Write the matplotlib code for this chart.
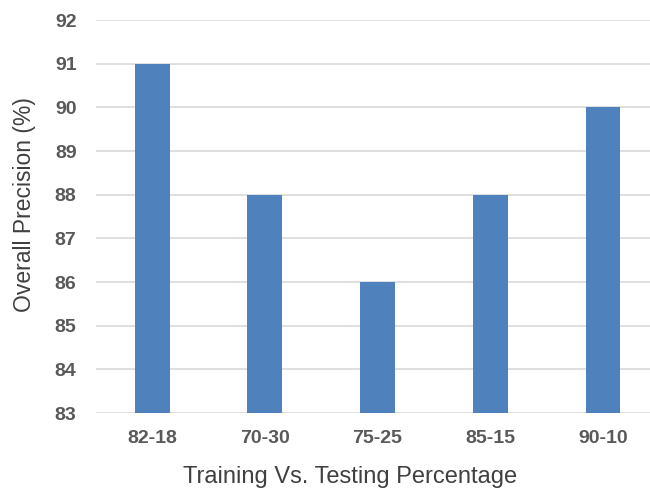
import matplotlib.pyplot as plt

splits = ["82-18", "70-30", "75-25", "85-15", "90-10"]
precision = [91, 88, 86, 88, 90]
y_ticks = list(range(83, 93))

plt.rcParams['font.family'] = ['Liberation Sans', 'DejaVu Sans']

fig = plt.figure(figsize=(6.5, 4.94), dpi=100)
ax = fig.add_axes([96 / 650, 1 - 413 / 494, 1 - 96 / 650, (413 - 20) / 494])

ax.bar(range(len(splits)), precision, width=0.31, color='#4f81bd', zorder=3)

ax.set_ylim(83, 92)
ax.set_xlim(-0.497, 4.417)
ax.set_yticks(y_ticks)
ax.set_xticks(range(len(splits)))
ax.set_xticklabels(splits)
ax.grid(axis='y', color='#d9d9d9', linewidth=1.2, zorder=0)
for s in ax.spines.values():
    s.set_visible(False)
ax.tick_params(length=0, labelsize=14, labelcolor='#595959')
ax.tick_params(axis='x', pad=12)
ax.tick_params(axis='y', pad=14)
for lbl in ax.get_xticklabels() + ax.get_yticklabels():
    lbl.set_fontweight('bold')

ax.set_xlabel("Training Vs. Testing Percentage", fontsize=17, color='#404040')
ax.xaxis.set_label_coords(0.458, -0.135)
ax.set_ylabel("Overall Precision (%)", fontsize=16.5, color='#404040')
ax.yaxis.set_label_coords(-0.108, 0.53)

fig.savefig("out.png", dpi=100)
